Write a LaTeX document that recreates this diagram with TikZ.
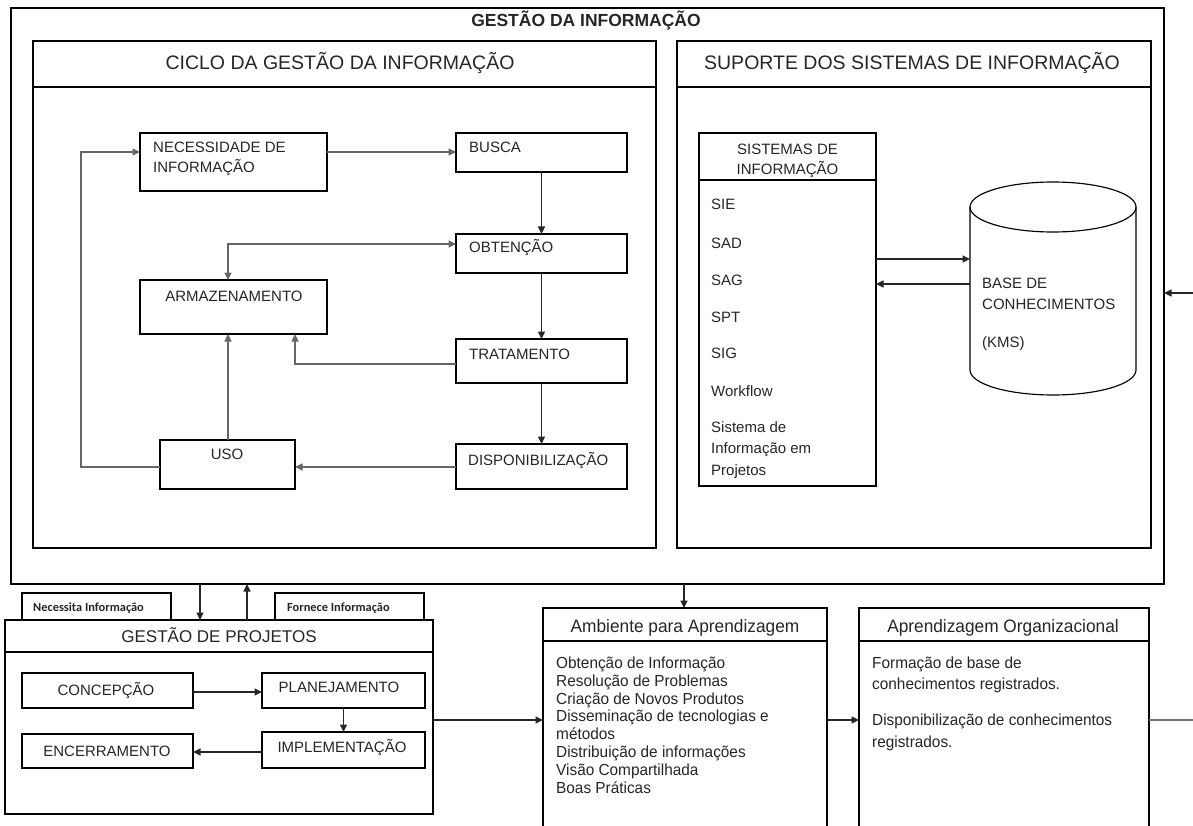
\documentclass[tikz,border=0pt]{standalone}
\usepackage{fontspec}
\setmainfont{Liberation Sans}
\newfontfamily\narrowfont[FakeStretch=0.96]{Liberation Sans}
\newfontfamily\calfont{Carlito}
\usetikzlibrary{arrows.meta}
\definecolor{ink}{HTML}{262626}
\tikzset{
  frame/.style={draw=black, line width=1.15pt, inner sep=0pt, outer sep=0pt, anchor=north west},
  edge/.style={draw=black, line width=1.15pt},
  conn/.style={draw=black!85, line width=1.15pt, -{Triangle[length=7.5pt,width=7pt]}},
  soft/.style={conn, draw=black!60},
  txt/.style={inner sep=0pt, anchor=base west, text=ink, font=\fontsize{15}{18}\selectfont},
  ctxt/.style={txt, anchor=base},
  big/.style={ctxt, font=\fontsize{19.5}{22}\selectfont},
  narrowhead/.style={ctxt, font=\narrowfont\fontsize{18}{21}\selectfont},
  narrowbody/.style={txt, font=\narrowfont\fontsize{16}{18}\selectfont},
  tab/.style={txt, font=\calfont\bfseries\fontsize{12.4}{14}\selectfont}
}
\begin{document}
\begin{tikzpicture}[x=1pt,y=-1pt]
\useasboundingbox[fill=white] (0,0) rectangle (1193,826);

% ---------- Gestão da Informação ----------
\node[frame, minimum width=1153pt, minimum height=576pt] (outer) at (11,8) {};
\node[ctxt, font=\bfseries\fontsize{17.5}{20}\selectfont] (tgi) at (586,27) {GESTÃO DA INFORMAÇÃO};

% Ciclo panel
\node[frame, minimum width=623pt, minimum height=46pt] (cicloh) at (33,41) {};
\node[frame, minimum width=623pt, minimum height=461pt] (ciclob) at (33,87) {};
\node[big] (tciclo) at (340,70) {CICLO DA GESTÃO DA INFORMAÇÃO};

% Suporte panel
\node[frame, minimum width=474pt, minimum height=46pt] (suph) at (677,41) {};
\node[frame, minimum width=474pt, minimum height=461pt] (supb) at (677,87) {};
\node[big] (tsup) at (912,70) {SUPORTE DOS SISTEMAS DE INFORMAÇÃO};

% Cycle steps
\node[frame, minimum width=187pt, minimum height=58pt] (nec) at (140,133) {};
\node[txt] (tnec1) at (153,153) {NECESSIDADE DE};
\node[txt] (tnec2) at (153,173) {INFORMAÇÃO};
\node[frame, minimum width=171pt, minimum height=39pt] (busca) at (456,133) {};
\node[txt] (tbusca) at (469,153) {BUSCA};
\node[frame, minimum width=171pt, minimum height=39pt] (obt) at (456,234) {};
\node[txt] (tobt) at (469,253) {OBTENÇÃO};
\node[frame, minimum width=187pt, minimum height=54pt] (arm) at (140,280) {};
\node[ctxt] (tarm) at (234,301) {ARMAZENAMENTO};
\node[frame, minimum width=171pt, minimum height=44pt] (trat) at (456,339) {};
\node[txt] (ttrat) at (469,359) {TRATAMENTO};
\node[frame, minimum width=171pt, minimum height=45pt] (disp) at (456,444) {};
\node[txt] (tdisp) at (468,465) {DISPONIBILIZAÇÃO};
\node[frame, minimum width=135pt, minimum height=49pt] (uso) at (160,440) {};
\node[ctxt] (tuso) at (227,459) {USO};

% helper rows and columns for the cycle connectors
\coordinate (yNec) at (0,152);
\coordinate (yOA) at (0,244);
\coordinate (yTA) at (0,364);
\coordinate (yUso) at (0,467);
\coordinate (xArm) at (228,0);
\coordinate (xTA) at (295,0);
\coordinate (xLoop) at (81,0);

\draw[soft] (nec.east |- yNec) -- (busca.west |- yNec);
\draw[conn] (busca.south) -- (obt.north);
\draw[soft, {Triangle[length=7.5pt,width=7pt]}-{Triangle[length=7.5pt,width=7pt]}]
  (xArm |- arm.north) |- (obt.west |- yOA);
\draw[conn] (obt.south) -- (trat.north);
\draw[soft] (trat.west |- yTA) -| (xTA |- arm.south);
\draw[conn] (trat.south) -- (disp.north);
\draw[soft] (disp.west |- yUso) -- (uso.east |- yUso);
\draw[soft] (xArm |- uso.north) -- (xArm |- arm.south);
\draw[soft] (uso.west |- yUso) -| (xLoop |- yNec) -- (nec.west |- yNec);

% Information systems
\node[frame, minimum width=177pt, minimum height=47pt] (sih) at (699,133) {};
\node[frame, minimum width=177pt, minimum height=306pt] (si) at (699,180) {};
\node[ctxt] (tsih1) at (787.5,155) {SISTEMAS DE};
\node[ctxt] (tsih2) at (787.5,175) {INFORMAÇÃO};
\node[txt] (tsie) at (711,210) {SIE};
\node[txt] (tsad) at (711,248) {SAD};
\node[txt] (tsag) at (711,285) {SAG};
\node[txt] (tspt) at (711,322) {SPT};
\node[txt] (tsig) at (711,358) {SIG};
\node[txt] (twf) at (711,396) {Workflow};
\node[txt] (tsp1) at (711,432) {Sistema de};
\node[txt] (tsp2) at (711,453) {Informação em};
\node[txt] (tsp3) at (711,475) {Projetos};

% Knowledge base cylinder
\node[inner sep=0pt, outer sep=0pt, minimum width=166pt, minimum height=212pt] (kb) at (1053,288) {};
\draw[edge] (970,207) -- (970,370) arc[start angle=180, end angle=360, x radius=83pt, y radius=25pt] -- (1136,207);
\draw[edge] (1053,207) ellipse[x radius=83pt, y radius=25pt];
\node[txt] (tkb1) at (982,288) {BASE DE};
\node[txt] (tkb2) at (982,309) {CONHECIMENTOS};
\node[txt] (tkb3) at (982,347) {(KMS)};

\coordinate (ySiOut) at (0,259);
\coordinate (ySiIn) at (0,284);
\draw[conn] (si.east |- ySiOut) -- (kb.west |- ySiOut);
\draw[conn] (kb.west |- ySiIn) -- (si.east |- ySiIn);

\coordinate (ext) at (1193,293);
\draw[conn] (ext) -- (outer.east |- ext);

% ---------- Gestão de Projetos ----------
\node[frame, minimum width=149pt, minimum height=27pt] (nec2) at (22,593) {};
\node[tab] (tnec2) at (33,611) {Necessita Informação};
\node[frame, minimum width=149pt, minimum height=27pt] (forn) at (275,593) {};
\node[tab] (tforn) at (287,611) {Fornece Informação};

\node[frame, minimum width=428pt, minimum height=32pt] (gph) at (5,620) {};
\node[frame, minimum width=428pt, minimum height=162pt] (gp) at (5,652) {};
\node[ctxt, font=\fontsize{17}{20}\selectfont] (tgp) at (219,642) {GESTÃO DE PROJETOS};

\coordinate (xDown) at (200,0);
\coordinate (xUp) at (247,0);
\draw[conn] (outer.south -| xDown) -- (gph.north -| xDown);
\draw[conn] (gph.north -| xUp) -- (outer.south -| xUp);

\node[frame, minimum width=171pt, minimum height=35pt] (conc) at (22,673) {};
\node[ctxt] (tconc) at (106,695) {CONCEPÇÃO};
\node[frame, minimum width=163pt, minimum height=35pt] (plan) at (262,673) {};
\node[ctxt] (tplan) at (339,692) {PLANEJAMENTO};
\node[frame, minimum width=163pt, minimum height=36pt] (impl) at (262,732) {};
\node[ctxt] (timpl) at (342,752) {IMPLEMENTAÇÃO};
\node[frame, minimum width=171pt, minimum height=34pt] (enc) at (22,734) {};
\node[ctxt] (tenc) at (107,756) {ENCERRAMENTO};

\coordinate (yCP) at (0,692);
\coordinate (yIE) at (0,752);
\draw[conn] (conc.east |- yCP) -- (plan.west |- yCP);
\draw[conn] (plan.south) -- (impl.north);
\draw[conn] (impl.west |- yIE) -- (enc.east |- yIE);

% ---------- Learning ----------
\node[frame, minimum width=284pt, minimum height=33pt] (amb) at (543,608) {};
\draw[edge] (amb.south west) -- (543,826);
\draw[edge] (amb.south east) -- (827,826);
\node[narrowhead] (tamb) at (685,632) {Ambiente para Aprendizagem};
\node[narrowbody] (ta1) at (556,668) {Obtenção de Informação};
\node[narrowbody] (ta2) at (556,686) {Resolução de Problemas};
\node[narrowbody] (ta3) at (556,704) {Criação de Novos Produtos};
\node[narrowbody] (ta4) at (556,721.5) {Disseminação de tecnologias e};
\node[narrowbody] (ta5) at (556,739) {métodos};
\node[narrowbody] (ta6) at (556,757) {Distribuição de informações};
\node[narrowbody] (ta7) at (556,775) {Visão Compartilhada};
\node[narrowbody] (ta8) at (556,793) {Boas Práticas};

\node[frame, minimum width=290pt, minimum height=33pt] (apr) at (859,608) {};
\draw[edge] (apr.south west) -- (859,826);
\draw[edge] (apr.south east) -- (1149,826);
\node[narrowhead] (tapr) at (1003,632) {Aprendizagem Organizacional};
\node[narrowbody] (tb1) at (872,668) {Formação de base de};
\node[narrowbody] (tb2) at (872,689) {conhecimentos registrados.};
\node[narrowbody] (tb3) at (872,725) {Disponibilização de conhecimentos};
\node[narrowbody] (tb4) at (872,747) {registrados.};

\coordinate (xAmb) at (684,0);
\coordinate (yRow) at (0,720);
\coordinate (rowEnd) at (1193,720);
\draw[conn] (outer.south -| xAmb) -- (amb.north -| xAmb);
\draw[conn] (gp.east |- yRow) -- (amb.west |- yRow);
\draw[conn] (amb.east |- yRow) -- (apr.west |- yRow);
\draw[edge, draw=black!55] (apr.east |- yRow) -- (rowEnd);
\end{tikzpicture}
\end{document}
